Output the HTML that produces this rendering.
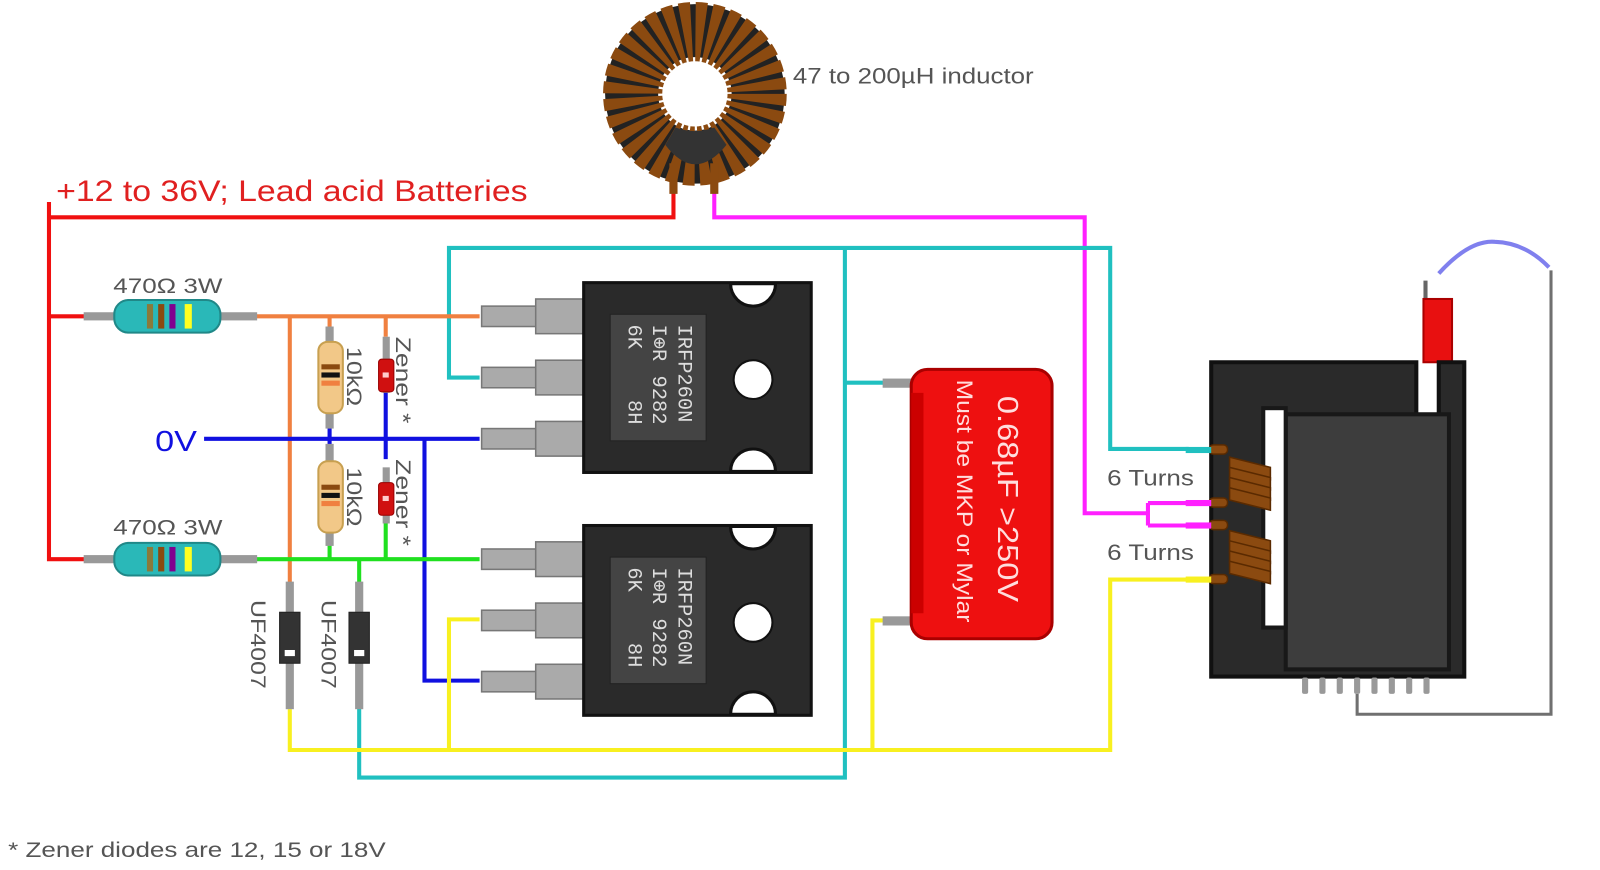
<!DOCTYPE html>
<html><head><meta charset="utf-8"><style>
html,body{margin:0;padding:0;background:#fff;}
svg{display:block;font-family:"Liberation Sans",sans-serif;}
</style></head><body>
<svg width="1600" height="870" viewBox="0 0 1600 870" xmlns="http://www.w3.org/2000/svg">
<rect width="1600" height="870" fill="#fff"/>
<g transform="scale(1.0204)">
<g fill="none" stroke-width="4" stroke-linejoin="miter">
<path d="M48,198 V550 M48,213 H660 V185 M48,310 H85 M48,548 H85" stroke="#f01010"/>
<path d="M700,185 V213 H1063 V503 H1125 M1125,493 V515 M1125,493 H1165 M1125,515 H1165" stroke="#ff20ff"/>
<path d="M470,370 H440 V243 H1088 V440 H1165 M828,243 V762 H352 V690 M828,375 H870" stroke="#20c0c0"/>
<path d="M248,310 H470 M284,310 V572 M323,310 V335 M378,310 V330" stroke="#f08040"/>
<path d="M200,430 H470 M416,430 V667 H470 M378,380 V450 M323,405 V450" stroke="#1010e0"/>
<path d="M248,548 H470 M352,548 V572 M323,520 V548 M378,505 V548" stroke="#20e020"/>
<path d="M284,695 V735 H1088 V568 H1165 M440,735 V607 H470 M855,735 V608 H870" stroke="#f8f020"/>
<path d="M1330,680 V700 H1520 V265" stroke="#707070" stroke-width="3"/>
<path d="M1410,268 Q1440,235 1465,237 Q1495,238 1518,262" stroke="#8080ee" stroke-width="4"/>
</g>

<circle cx="681" cy="92" r="62" fill="none" stroke="#222" stroke-width="52"/>
<circle cx="681" cy="92" r="60" fill="none" stroke="#8b4a10" stroke-width="60" stroke-dasharray="8 3.8"/>
<path d="M652,142 Q681,180 712,142 L700,125 Q681,132 662,125 Z" fill="#333"/>
<circle cx="681" cy="92" r="32" fill="#fff"/>
<rect x="656" y="160" width="8" height="30" fill="#8b4a10"/>
<rect x="696" y="160" width="8" height="30" fill="#8b4a10"/>
<text x="777" y="82" font-size="22" fill="#555" textLength="236" lengthAdjust="spacingAndGlyphs">47 to 200µH inductor</text>

<text x="55" y="197" font-size="29" fill="#e02020" textLength="462" lengthAdjust="spacingAndGlyphs">+12 to 36V; Lead acid Batteries</text>

<g>
<rect x="82" y="306" width="170" height="8" fill="#999"/>
<rect x="112" y="294" width="104" height="32" rx="14" fill="#2ab8b8" stroke="#208888" stroke-width="2"/>
<rect x="144" y="298" width="6" height="24" fill="#8a7a3a"/><rect x="155" y="298" width="6" height="24" fill="#8b4a10"/>
<rect x="166" y="298" width="6" height="24" fill="#800090"/><rect x="181" y="298" width="7" height="24" fill="#ffff20"/>
<text x="111" y="287" font-size="21" fill="#555" textLength="107" lengthAdjust="spacingAndGlyphs">470Ω 3W</text>
</g>
<g>
<rect x="82" y="544" width="170" height="8" fill="#999"/>
<rect x="112" y="532" width="104" height="32" rx="14" fill="#2ab8b8" stroke="#208888" stroke-width="2"/>
<rect x="144" y="536" width="6" height="24" fill="#8a7a3a"/><rect x="155" y="536" width="6" height="24" fill="#8b4a10"/>
<rect x="166" y="536" width="6" height="24" fill="#800090"/><rect x="181" y="536" width="7" height="24" fill="#ffff20"/>
<text x="111" y="524" font-size="21" fill="#555" textLength="107" lengthAdjust="spacingAndGlyphs">470Ω 3W</text>
</g>

<g fill="#f2c888" stroke="#c8a050" stroke-width="2">
<rect x="319" y="320" width="8" height="100" fill="#999" stroke="none"/>
<rect x="312" y="335" width="24" height="70" rx="9"/>
<rect x="319" y="435" width="8" height="100" fill="#999" stroke="none"/>
<rect x="312" y="452" width="24" height="70" rx="9"/>
</g>
<g stroke="none"><rect x="315" y="357" width="18" height="5" fill="#8b4a10"/><rect x="315" y="365" width="18" height="5" fill="#111"/><rect x="315" y="373" width="18" height="5" fill="#f08040"/>
<rect x="315" y="475" width="18" height="5" fill="#8b4a10"/><rect x="315" y="483" width="18" height="5" fill="#111"/><rect x="315" y="491" width="18" height="5" fill="#f08040"/></g>
<text transform="translate(340,340) rotate(90)" font-size="21" fill="#555" textLength="58" lengthAdjust="spacingAndGlyphs">10kΩ</text>
<text transform="translate(340,458) rotate(90)" font-size="21" fill="#555" textLength="58" lengthAdjust="spacingAndGlyphs">10kΩ</text>

<rect x="375" y="330" width="7" height="55" fill="#999"/>
<rect x="371" y="352" width="15" height="32" rx="3" fill="#d01010" stroke="#900" stroke-width="1"/>
<rect x="375" y="365" width="6" height="5" fill="#fcc"/>
<rect x="375" y="458" width="7" height="55" fill="#999"/>
<rect x="371" y="473" width="15" height="32" rx="3" fill="#d01010" stroke="#900" stroke-width="1"/>
<rect x="375" y="486" width="6" height="5" fill="#fcc"/>
<text transform="translate(388,330) rotate(90)" font-size="21" fill="#555" textLength="85" lengthAdjust="spacingAndGlyphs">Zener *</text>
<text transform="translate(388,450) rotate(90)" font-size="21" fill="#555" textLength="85" lengthAdjust="spacingAndGlyphs">Zener *</text>

<rect x="280" y="570" width="8" height="125" fill="#999"/>
<rect x="274" y="600" width="20" height="50" fill="#333" stroke="#222"/>
<rect x="279" y="637" width="10" height="6" fill="#fff"/>
<rect x="348" y="570" width="8" height="125" fill="#999"/>
<rect x="342" y="600" width="20" height="50" fill="#333" stroke="#222"/>
<rect x="347" y="637" width="10" height="6" fill="#fff"/>
<text transform="translate(246,588) rotate(90)" font-size="21" fill="#555" textLength="87" lengthAdjust="spacingAndGlyphs">UF4007</text>
<text transform="translate(315,588) rotate(90)" font-size="21" fill="#555" textLength="87" lengthAdjust="spacingAndGlyphs">UF4007</text>

<text x="152" y="442" font-size="28" fill="#1010e0" textLength="41" lengthAdjust="spacingAndGlyphs">0V</text>

<g id="m1">
<g fill="#aaa" stroke="#777" stroke-width="1.5">
<rect x="472" y="300" width="56" height="20"/><rect x="525" y="293" width="48" height="34"/>
<rect x="472" y="360" width="56" height="20"/><rect x="525" y="353" width="48" height="34"/>
<rect x="472" y="420" width="56" height="20"/><rect x="525" y="413" width="48" height="34"/>
</g>
<rect x="572" y="277" width="223" height="186" fill="#2a2a2a" stroke="#111" stroke-width="3"/>
<path d="M716,278 A22,22 0 0 0 760,278 Z" fill="#fff" stroke="#111" stroke-width="3"/>
<path d="M716,462 A22,22 0 0 1 760,462 Z" fill="#fff" stroke="#111" stroke-width="3"/>
<rect x="598" y="308" width="94" height="124" fill="#444" stroke="#222"/>
<circle cx="738" cy="372" r="19" fill="#fff" stroke="#111" stroke-width="2"/>
<g font-family="Liberation Mono,monospace" font-size="20" fill="#ddd">
<text transform="translate(665,318) rotate(90)">IRFP260N</text>
<text transform="translate(640,318) rotate(90)">I⊕R</text>
<text transform="translate(640,368) rotate(90)">9282</text>
<text transform="translate(616,318) rotate(90)">6K</text>
<text transform="translate(616,392) rotate(90)">8H</text>
</g>
</g>
<use href="#m1" transform="translate(0,238)"/>

<rect x="865" y="371" width="32" height="9" fill="#999"/>
<rect x="865" y="604" width="32" height="9" fill="#999"/>
<rect x="893" y="362" width="138" height="264" rx="16" fill="#ee1010" stroke="#a00" stroke-width="3"/>
<rect x="893" y="385" width="12" height="216" fill="#c00"/>
<text transform="translate(978,388) rotate(90)" font-size="28" fill="#fdd" textLength="202" lengthAdjust="spacingAndGlyphs">0.68µF  &gt;250V</text>
<text transform="translate(938,372) rotate(90)" font-size="22" fill="#fdd" textLength="238" lengthAdjust="spacingAndGlyphs">Must be MKP or Mylar</text>

<rect x="1395" y="275" width="4" height="20" fill="#666"/>
<rect x="1395" y="293" width="28" height="62" fill="#e81010" stroke="#a00" stroke-width="2"/>
<path d="M1187,355 H1388 V410 H1410 V355 H1435 V663 H1187 Z" fill="#2a2a2a" stroke="#111" stroke-width="4"/>
<rect x="1260" y="406" width="160" height="250" fill="#3d3d3d" stroke="#181818" stroke-width="4"/>
<rect x="1238" y="400" width="22" height="215" fill="#fff" stroke="#181818" stroke-width="4"/>
<g fill="#999">
<rect x="1276" y="664" width="6" height="16" rx="2"/><rect x="1293" y="664" width="6" height="16" rx="2"/><rect x="1310" y="664" width="6" height="16" rx="2"/><rect x="1327" y="664" width="6" height="16" rx="2"/><rect x="1344" y="664" width="6" height="16" rx="2"/><rect x="1361" y="664" width="6" height="16" rx="2"/><rect x="1378" y="664" width="6" height="16" rx="2"/><rect x="1395" y="664" width="6" height="16" rx="2"/>
</g>
<g stroke="#5a2a00" stroke-width="1.5" fill="#8b4a10">
<rect x="1185" y="436" width="18" height="9" rx="4"/>
<rect x="1185" y="488" width="18" height="9" rx="4"/>
<rect x="1185" y="510" width="18" height="9" rx="4"/>
<rect x="1185" y="563" width="18" height="9" rx="4"/>
<path d="M1205,448 L1245,458 V470 L1205,460 Z"/><path d="M1205,458 L1245,468 V480 L1205,470 Z"/><path d="M1205,468 L1245,478 V490 L1205,480 Z"/><path d="M1205,478 L1245,488 V500 L1205,490 Z"/>
<path d="M1205,520 L1245,530 V542 L1205,532 Z"/><path d="M1205,530 L1245,540 V552 L1205,542 Z"/><path d="M1205,540 L1245,550 V562 L1205,552 Z"/><path d="M1205,550 L1245,560 V572 L1205,562 Z"/>
</g>
<rect x="1162" y="438" width="25" height="6" fill="#20c0c0"/>
<rect x="1162" y="490" width="25" height="6" fill="#ff20ff"/>
<rect x="1162" y="512" width="25" height="6" fill="#ff20ff"/>
<rect x="1162" y="565" width="25" height="6" fill="#f8f020"/>
<text x="1085" y="476" font-size="22" fill="#555" textLength="85" lengthAdjust="spacingAndGlyphs">6 Turns</text>
<text x="1085" y="549" font-size="22" fill="#555" textLength="85" lengthAdjust="spacingAndGlyphs">6 Turns</text>

<text x="8" y="840" font-size="21" fill="#555" textLength="370" lengthAdjust="spacingAndGlyphs">* Zener diodes are 12, 15 or 18V</text>
</g>
</svg>
</body></html>
